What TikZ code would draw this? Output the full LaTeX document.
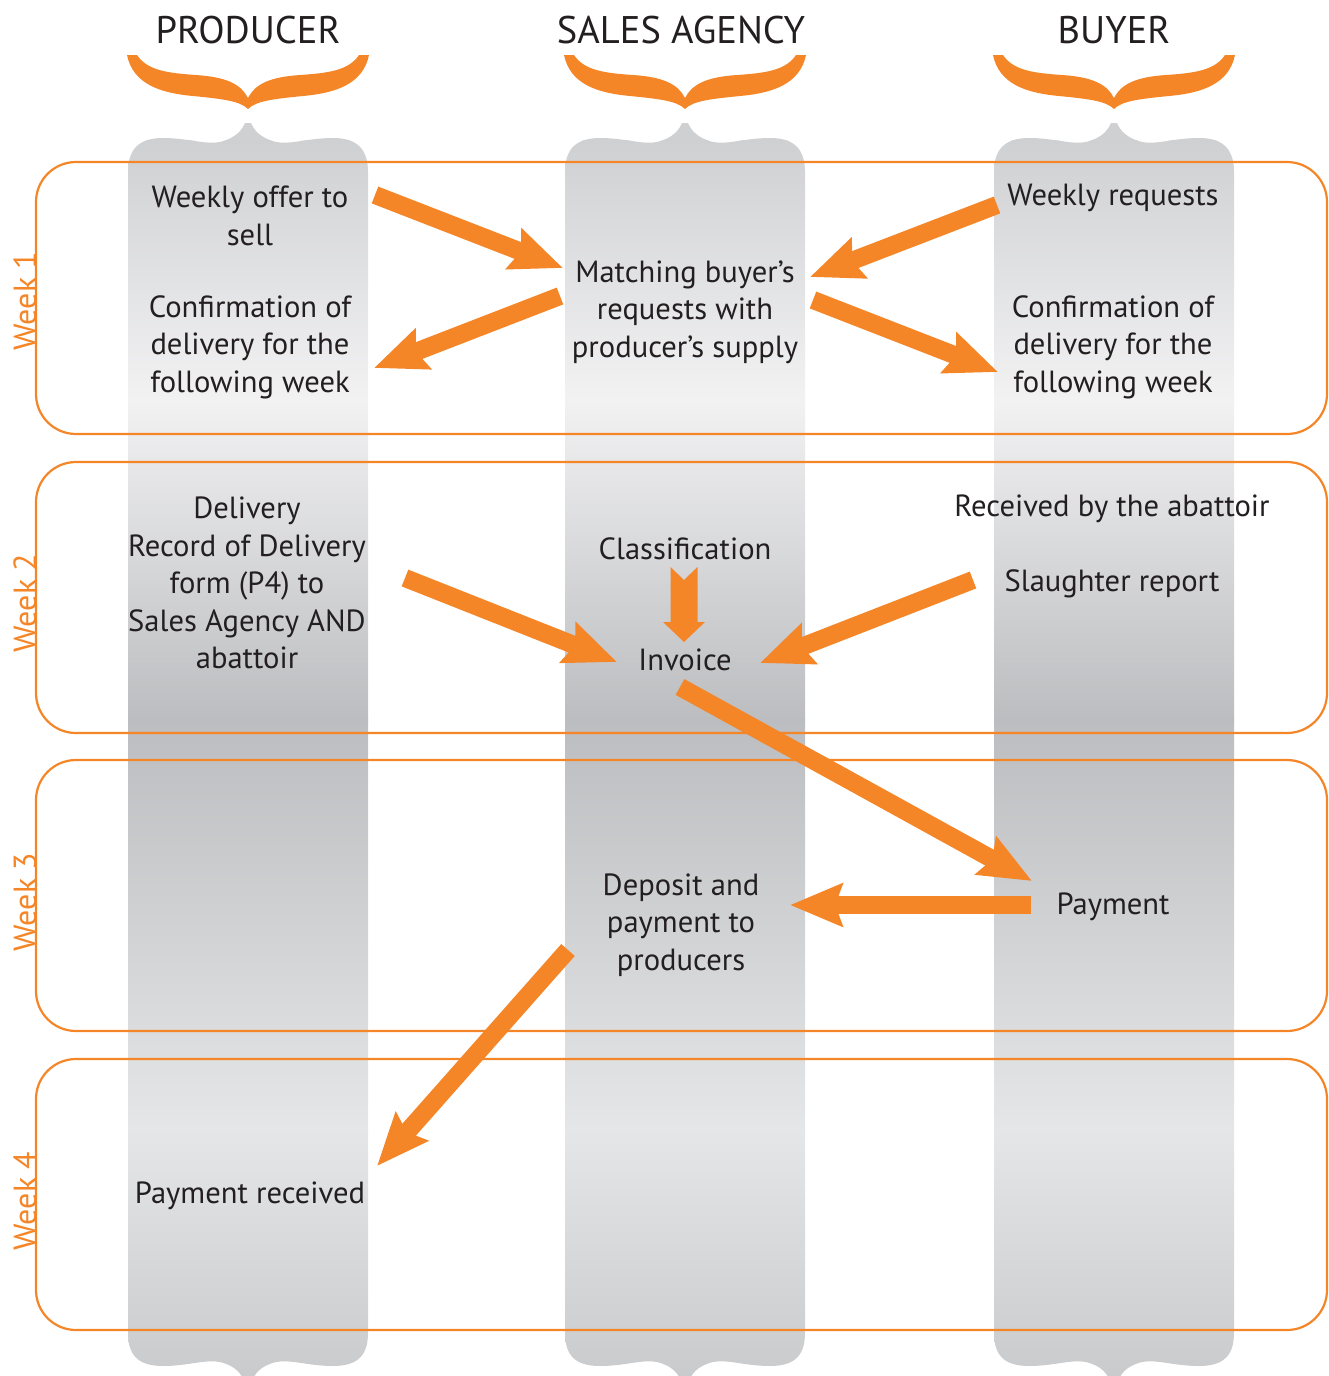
\documentclass[tikz,border=0pt]{standalone}
\usepackage{fontspec}
\setmainfont{PT Sans}
\usetikzlibrary{arrows.meta,calc}
\definecolor{org}{RGB}{245,134,40}
\definecolor{txt}{RGB}{35,31,32}
\definecolor{gA}{RGB}{207,208,210}
\definecolor{gB}{RGB}{242,242,243}
\definecolor{gC}{RGB}{188,189,192}
\definecolor{gD}{RGB}{229,230,231}
\definecolor{gE}{RGB}{200,201,203}
\newcommand\lanepath[1]{%
  ({#1-120},172) .. controls ({#1-120},150) and ({#1-110},138) .. ({#1-85},138)
  .. controls ({#1-60},138) and ({#1-42},145) .. ({#1-28},142)
  .. controls ({#1-12},138) and ({#1-6},130) .. ({#1-3},123) -- ({#1+3},123)
  .. controls ({#1+6},130) and ({#1+12},138) .. ({#1+28},142)
  .. controls ({#1+42},145) and ({#1+60},138) .. ({#1+85},138)
  .. controls ({#1+110},138) and ({#1+120},150) .. ({#1+120},172)
  -- ({#1+120},1333)
  .. controls ({#1+120},1355) and ({#1+110},1366) .. ({#1+85},1366)
  .. controls ({#1+60},1366) and ({#1+42},1359) .. ({#1+28},1362)
  .. controls ({#1+12},1366) and ({#1+6},1374) .. ({#1+3},1384) -- ({#1-3},1384)
  .. controls ({#1-6},1374) and ({#1-12},1366) .. ({#1-28},1362)
  .. controls ({#1-42},1359) and ({#1-60},1366) .. ({#1-85},1366)
  .. controls ({#1-110},1366) and ({#1-120},1355) .. ({#1-120},1333) -- cycle}
\newcommand\lane[1]{%
  \begin{scope}
    \clip \lanepath{#1};
    \fill[gA] ({#1-125},118) rectangle ({#1+125},141);
    \shade[top color=gA,bottom color=gB] ({#1-125},140) rectangle ({#1+125},400);
    \shade[top color=gB,bottom color=gC] ({#1-125},399) rectangle ({#1+125},720);
    \shade[top color=gC,bottom color=gD] ({#1-125},719) rectangle ({#1+125},1130);
    \shade[top color=gD,bottom color=gE] ({#1-125},1129) rectangle ({#1+125},1390);
  \end{scope}}
\newcommand\bracket[1]{%
  \fill[org] ({#1-121},55) .. controls ({#1-115},84) and ({#1-88},93) .. ({#1-55},96)
  .. controls ({#1-25},99) and ({#1-8},101) .. ({#1},109)
  .. controls ({#1+8},101) and ({#1+25},99) .. ({#1+55},96)
  .. controls ({#1+88},93) and ({#1+115},84) .. ({#1+121},55)
  -- ({#1+111},55)
  .. controls ({#1+101},70) and ({#1+82},73) .. ({#1+52},75)
  .. controls ({#1+22},77) and ({#1+7},84) .. ({#1},98)
  .. controls ({#1-7},84) and ({#1-22},77) .. ({#1-52},75)
  .. controls ({#1-82},73) and ({#1-101},70) .. ({#1-111},55) -- cycle;}
\begin{document}
\begin{tikzpicture}[x=1pt,y=-1pt,
  lbl/.style={align=center,font=\fontsize{30.6}{37.5}\selectfont,text=txt,inner sep=0pt},
  hdr/.style={font=\fontsize{38.5}{44}\selectfont,text=txt,inner sep=0pt},
  wk/.style={font=\fontsize{32}{36}\selectfont,text=org,rotate=90,anchor=base,inner sep=0pt},
  weekbox/.style={draw=org,line width=2.2pt,rounded corners=40pt},
  bigarrow/.style={draw=org,line width=18pt,-{Stealth[length=52pt,width=42pt,inset=7pt]}},
]
\useasboundingbox (0,0) rectangle (1328,1376);
% lanes
\lane{248}
\lane{685}
\lane{1114}
% braces
\bracket{248}
\bracket{685}
\bracket{1114}
% headers
\node[hdr] (hP) at (248,30) {PRODUCER};
\node[hdr] (hS) at (681,30) {SALES AGENCY};
\node[hdr] (hB) at (1114,30) {BUYER};
% week boxes
\draw[weekbox] (36,162) rectangle (1327,434);
\draw[weekbox] (36,462) rectangle (1327,733);
\draw[weekbox] (36,760) rectangle (1327,1031);
\draw[weekbox] (36,1059) rectangle (1327,1330);
\node[wk] (w1) at (36,301) {Week 1};
\node[wk] (w2) at (36,603) {Week 2};
\node[wk] (w3) at (36,902) {Week 3};
\node[wk] (w4) at (36,1201) {Week 4};
% texts
\node[lbl] (offer) at (250,216) {Weekly offer to\\sell};
\node[lbl] (confP) at (250,347) {Confirmation of\\delivery for the\\following week};
\node[lbl] (match) at (685,312) {Matching buyer’s\\requests with\\producer’s supply};
\node[lbl] (req) at (1113,198) {Weekly requests};
\node[lbl] (confB) at (1113,347) {Confirmation of\\delivery for the\\following week};
\node[lbl] (deliv) at (247,583) {Delivery\\Record of Delivery\\form (P4) to\\Sales Agency AND\\abattoir};
\node[lbl] (class) at (685,549) {Classification};
\node[lbl] (inv) at (685,660) {Invoice};
\node[lbl] (recv) at (1112,509) {Received by the abattoir};
\node[lbl] (slau) at (1112,584) {Slaughter report};
\node[lbl] (dep) at (681,925) {Deposit and\\payment to\\producers};
\node[lbl] (pay) at (1113,907) {Payment};
\node[lbl] (payr) at (250,1196) {Payment received};
% arrow ends
\coordinate (a1s) at (375,195); \coordinate (a1e) at (563,268);
\coordinate (a2s) at (560,296); \coordinate (a2e) at (374,368);
\coordinate (a3s) at (997,205); \coordinate (a3e) at (810,277);
\coordinate (a4s) at (813,300); \coordinate (a4e) at (998,372);
\coordinate (a5s) at (405,578); \coordinate (a5e) at (617,662);
\coordinate (a6s) at (973,580); \coordinate (a6e) at (760,663);
\coordinate (a8s) at (680,687); \coordinate (a8e) at (1032,881);
\coordinate (a9s) at (1031,905); \coordinate (a9e) at (790,905);
\coordinate (a10s) at (568,950); \coordinate (a10e) at (377,1166);
\coordinate (c7s) at (684,567); \coordinate (c7e) at (684,642);
% arrows
\draw[bigarrow] (a1s) -- (a1e);
\draw[bigarrow] (a2s) -- (a2e);
\draw[bigarrow] (a3s) -- (a3e);
\draw[bigarrow] (a4s) -- (a4e);
\draw[bigarrow] (a5s) -- (a5e);
\draw[bigarrow] (a6s) -- (a6e);
\draw[bigarrow] (a8s) -- (a8e);
\draw[bigarrow] (a9s) -- (a9e);
\draw[bigarrow] (a10s) -- (a10e);
\fill[org] ($(c7s)+(-13.5,0)$) -- ($(c7s)+(0,13)$) -- ($(c7s)+(13.5,0)$)
  -- ($(c7e)+(13.5,-20)$) -- ($(c7e)+(21,-20)$) -- (c7e) -- ($(c7e)+(-21,-20)$)
  -- ($(c7e)+(-13.5,-20)$) -- cycle;
\end{tikzpicture}
\end{document}
